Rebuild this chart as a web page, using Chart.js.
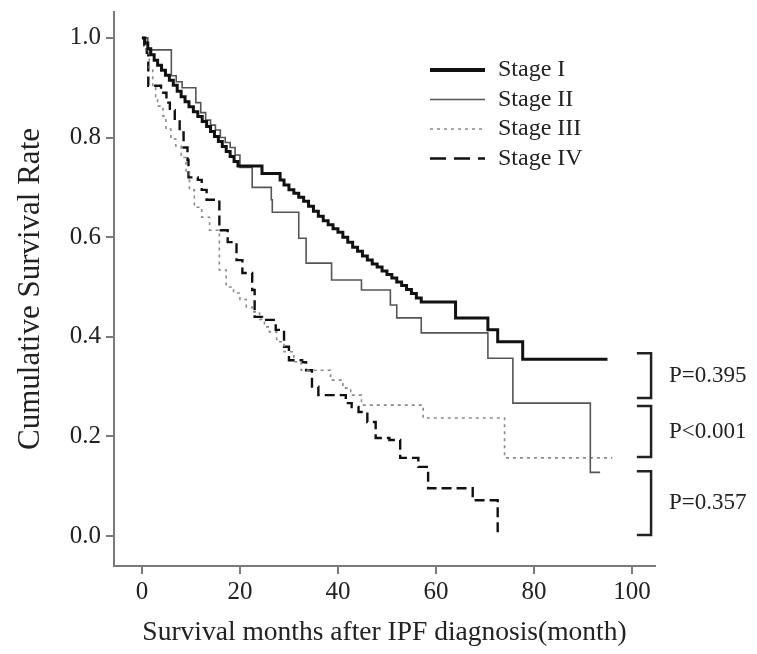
<!DOCTYPE html>
<html>
<head>
<meta charset="utf-8">
<title>Cumulative Survival Rate by Stage</title>
<script src="https://cdn.jsdelivr.net/npm/chart.js@4.4.1/dist/chart.umd.min.js"></script>
<style>
  body { margin: 0; background: #fff; }
  #Grafica { display: block; }
</style>
</head>
<body>
<canvas id="Grafica" width="757" height="654"></canvas>
<script>
// months / survival
const stageNames = ['Stage I', 'Stage II', 'Stage III', 'Stage IV'];

const stage1Months = [0, 0.6, 1.2, 1.8, 2.5, 3.2, 4, 4.8, 5.6, 6.4, 7.2, 8, 8.8, 9.6, 10.5, 11.4, 12.3, 13.2, 14, 14.8, 15.6, 16.4, 17.2, 18, 18.8, 19.6,
  24.5, 28.2, 29, 30, 31, 32, 33, 34, 35, 36, 37, 38, 39, 40, 41, 42, 43, 44, 45, 46, 47, 48, 49, 50, 51, 52, 53, 54, 55, 56, 57, 64, 70.6, 72.6, 77.7, 95];
const stage1Surv = [1.0, 0.99, 0.978, 0.966, 0.955, 0.945, 0.935, 0.925, 0.915, 0.905, 0.893, 0.882, 0.872, 0.862, 0.852, 0.842, 0.832, 0.822, 0.812, 0.802, 0.792, 0.782, 0.772, 0.762, 0.752, 0.743,
  0.728, 0.715, 0.705, 0.695, 0.688, 0.68, 0.672, 0.662, 0.652, 0.642, 0.633, 0.625, 0.617, 0.61, 0.60, 0.59, 0.58, 0.572, 0.562, 0.554, 0.546, 0.54, 0.532, 0.525, 0.518, 0.51, 0.503, 0.495, 0.487, 0.478, 0.47, 0.438, 0.414, 0.39, 0.355, 0.355];

const stage2Months = [0, 1.2, 6, 7, 8.2, 11, 12, 13, 14, 15, 16, 17, 18, 19, 20, 22.5, 26.4, 26.6, 32, 33.5, 38.7, 44.8, 50.7, 52, 57, 70.6, 75.7, 91.5, 93.5];
const stage2Surv = [1.0, 0.976, 0.924, 0.912, 0.90, 0.87, 0.85, 0.835, 0.825, 0.815, 0.80, 0.79, 0.78, 0.765, 0.74, 0.70, 0.675, 0.65, 0.598, 0.548, 0.514, 0.494, 0.464, 0.438, 0.408, 0.357, 0.267, 0.128, 0.128];

const stage3Months = [0, 0.8, 1.5, 2.2, 2.8, 3.2, 4.3, 4.9, 5.9, 6.9, 8, 9, 9.7, 10.7, 12.2, 13.8, 15.8, 17.2, 18.7, 20, 21.3, 22.5, 24, 25, 26, 27.5, 29, 31, 32.5, 38.5, 41, 42.6, 44.8, 57.4, 74, 96];
const stage3Surv = [1.0, 0.97, 0.94, 0.90, 0.88, 0.863, 0.843, 0.817, 0.797, 0.783, 0.76, 0.73, 0.695, 0.66, 0.64, 0.614, 0.534, 0.50, 0.488, 0.475, 0.46, 0.45, 0.435, 0.42, 0.41, 0.39, 0.37, 0.35, 0.333, 0.313, 0.297, 0.283, 0.263, 0.237, 0.157, 0.157];

const stage4Months = [0, 0.5, 1, 1.3, 3.9, 5, 5.7, 6.7, 7.7, 8.5, 9.3, 9.5, 11.4, 12.2, 13.2, 15.8, 17.5, 19.3, 20.5, 22.5, 23, 24.5, 27.3, 29, 30, 32.7, 33.5, 34.7, 36, 41.6, 42.8, 44.2, 46, 47.7, 50.5, 52.7, 56.4, 58.4, 67.5, 72.6];
const stage4Surv = [1.0, 0.985, 0.97, 0.904, 0.89, 0.87, 0.855, 0.835, 0.81, 0.78, 0.755, 0.72, 0.715, 0.695, 0.675, 0.614, 0.59, 0.554, 0.528, 0.494, 0.44, 0.434, 0.414, 0.38, 0.353, 0.349, 0.333, 0.30, 0.283, 0.267, 0.259, 0.249, 0.229, 0.197, 0.193, 0.157, 0.139, 0.096, 0.072, 0.0];

const xTicks = [0, 20, 40, 60, 80, 100];
const yTicks = [0.0, 0.2, 0.4, 0.6, 0.8, 1.0];

// p-values between neighbouring stages (bracket top / bottom in survival units)
const pLabels = ['P=0.395', 'P<0.001', 'P=0.357'];
const bracketTop = [0.367, 0.261, 0.13];
const bracketBottom = [0.277, 0.159, 0.002];

const serif = '"Liberation Serif", "Times New Roman", serif';
const axisGray = '#7a7a7a';
const textColor = '#222';

const lineStyles = [
  { color: '#111', width: 3, dash: [] },
  { color: '#555', width: 1.6, dash: [] },
  { color: '#8a8a8a', width: 1.6, dash: [3, 4] },
  { color: '#111', width: 2.4, dash: [10, 5] }
];

function toPoints(months, surv) {
  return months.map(function (m, i) { return { x: m, y: surv[i] }; });
}

const seriesData = [
  toPoints(stage1Months, stage1Surv),
  toPoints(stage2Months, stage2Surv),
  toPoints(stage3Months, stage3Surv),
  toPoints(stage4Months, stage4Surv)
];

// legend + p-value brackets drawn on top of the plot
const extrasPlugin = {
  id: 'extras',
  afterDraw: function (chart) {
    const ctx = chart.ctx;
    const area = chart.chartArea;
    const xs = chart.scales.x;
    const ys = chart.scales.y;
    ctx.save();

    // legend
    const lx0 = area.left + 316, lx1 = lx0 + 55, ty = area.top + 58;
    ctx.font = '24px ' + serif;
    ctx.textBaseline = 'middle';
    ctx.textAlign = 'left';
    stageNames.forEach(function (name, i) {
      const y = ty + i * 29.5;
      const st = lineStyles[i];
      ctx.beginPath();
      ctx.strokeStyle = st.color;
      ctx.lineWidth = i === 0 ? 4 : st.width;
      ctx.setLineDash(i === 3 ? [16, 8] : st.dash);
      ctx.moveTo(lx0, y);
      ctx.lineTo(lx1, y);
      ctx.stroke();
      ctx.setLineDash([]);
      ctx.fillStyle = textColor;
      ctx.fillText(name, lx1 + 13, y);
    });

    // brackets
    const bx0 = xs.getPixelForValue(101);
    const bx1 = xs.getPixelForValue(103.9);
    ctx.strokeStyle = textColor;
    ctx.lineWidth = 2.5;
    ctx.font = '23px ' + serif;
    pLabels.forEach(function (label, i) {
      const yTop = ys.getPixelForValue(bracketTop[i]);
      const yBot = ys.getPixelForValue(bracketBottom[i]);
      ctx.beginPath();
      ctx.moveTo(bx0, yTop);
      ctx.lineTo(bx1, yTop);
      ctx.lineTo(bx1, yBot);
      ctx.lineTo(bx0, yBot);
      ctx.stroke();
      ctx.fillStyle = textColor;
      ctx.fillText(label, bx1 + 18, (yTop + yBot) / 2);
    });
    ctx.restore();
  }
};

const ctx = document.getElementById('Grafica').getContext('2d');
const survChart = new Chart(ctx, {
  type: 'line',
  data: {
    datasets: stageNames.map(function (name, i) {
      return {
        label: name,
        data: seriesData[i],
        stepped: true,
        borderColor: lineStyles[i].color,
        borderWidth: lineStyles[i].width,
        borderDash: lineStyles[i].dash,
        pointRadius: 0,
        fill: false
      };
    })
  },
  options: {
    responsive: false,
    animation: false,
    layout: { padding: { top: 12, right: 102, left: 0, bottom: 0 } },
    plugins: {
      legend: { display: false },
      tooltip: { enabled: false }
    },
    scales: {
      x: {
        type: 'linear',
        min: -5.7,
        max: 104.7,
        afterBuildTicks: function (scale) { scale.ticks = xTicks.map(function (v) { return { value: v }; }); },
        afterFit: function (scale) { scale.height = 88; scale.paddingLeft = 0; scale.paddingRight = 0; },
        grid: { drawOnChartArea: false, color: axisGray, lineWidth: 2, tickLength: 8 },
        border: { color: axisGray, width: 2 },
        ticks: { color: textColor, padding: 3, font: { family: serif, size: 25 } },
        title: {
          display: true,
          text: 'Survival months after IPF diagnosis(month)',
          color: textColor,
          font: { family: serif, size: 27.5, lineHeight: 1 },
          padding: { top: 0, bottom: 7 }
        }
      },
      y: {
        min: -0.06,
        max: 1.052,
        afterBuildTicks: function (scale) { scale.ticks = yTicks.map(function (v) { return { value: v }; }); },
        afterFit: function (scale) { scale.width = 114; scale.paddingTop = 0; scale.paddingBottom = 0; },
        grid: { drawOnChartArea: false, color: axisGray, lineWidth: 2, tickLength: 8 },
        border: { color: axisGray, width: 2 },
        ticks: {
          color: textColor,
          padding: 5,
          font: { family: serif, size: 25 },
          callback: function (v) { return Number(v).toFixed(1); }
        },
        title: {
          display: true,
          text: 'Cumulative Survival Rate',
          color: textColor,
          font: { family: serif, size: 31, lineHeight: 1 },
          padding: { top: 15, bottom: 0 }
        }
      }
    }
  },
  plugins: [extrasPlugin]
});
</script>
</body>
</html>
